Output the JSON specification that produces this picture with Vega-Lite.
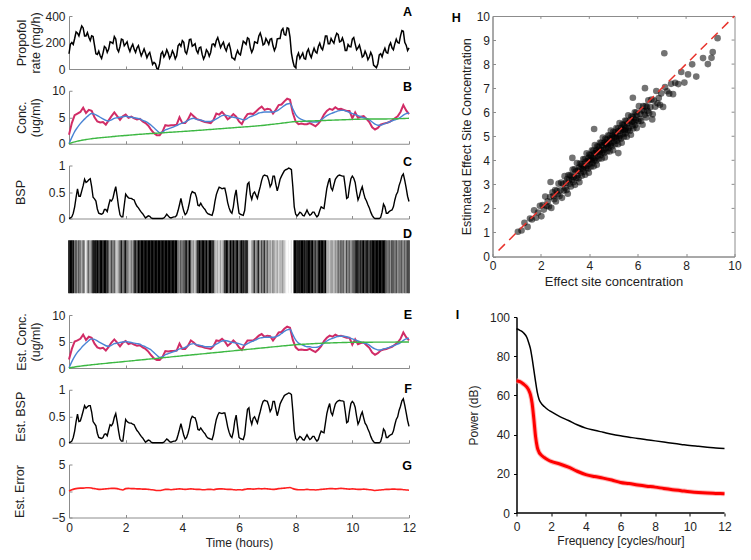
{
"$schema":"https://vega.github.io/schema/vega-lite/v6.json",
"padding":{"left":13,"top":6,"right":4,"bottom":4},
"datasets":{
"fine":[
{"t":0,"g":1,"a":115,"c":0,"f":0},{"t":0.05,"g":1,"a":187,"c":0.01,"f":0.01},{"t":0.1,"g":1,"a":200,"c":0.03,"f":0.03},{"t":0.15,"g":1,"a":185,"c":0.1,"f":0.1},{"t":0.2,"g":0.5,"a":230,"c":0.22,"f":0.22},{"t":0.25,"g":0.8,"a":280,"c":0.4,"f":0.4},{"t":0.3,"g":0.4,"a":270,"c":0.56,"f":0.54},{"t":0.35,"g":0.7,"a":250,"c":0.42,"f":0.4},{"t":0.4,"g":0.5,"a":290,"c":0.42,"f":0.41},{"t":0.45,"g":0.3,"a":325,"c":0.52,"f":0.5},
{"t":0.5,"g":0.6,"a":310,"c":0.62,"f":0.6},{"t":0.55,"g":0.4,"a":250,"c":0.74,"f":0.7},{"t":0.6,"g":0.05,"a":250,"c":0.68,"f":0.65},{"t":0.65,"g":0.4,"a":275,"c":0.7,"f":0.68},{"t":0.7,"g":0.6,"a":240,"c":0.73,"f":0.7},{"t":0.75,"g":0.3,"a":215,"c":0.75,"f":0.7},{"t":0.8,"g":0.5,"a":250,"c":0.6,"f":0.58},{"t":0.85,"g":1,"a":245,"c":0.4,"f":0.4},{"t":0.9,"g":0.9,"a":180,"c":0.37,"f":0.36},{"t":0.95,"g":1,"a":115,"c":0.33,"f":0.32},
{"t":1,"g":1,"a":110,"c":0.18,"f":0.18},{"t":1.05,"g":0.8,"a":135,"c":0.1,"f":0.1},{"t":1.1,"g":1,"a":100,"c":0.09,"f":0.09},{"t":1.15,"g":1,"a":80,"c":0.08,"f":0.08},{"t":1.2,"g":0.9,"a":120,"c":0.1,"f":0.1},{"t":1.25,"g":1,"a":170,"c":0.17,"f":0.16},{"t":1.3,"g":1,"a":160,"c":0.17,"f":0.17},{"t":1.35,"g":0.85,"a":125,"c":0.13,"f":0.13},{"t":1.4,"g":0.6,"a":150,"c":0.25,"f":0.24},{"t":1.45,"g":0.4,"a":205,"c":0.35,"f":0.34},
{"t":1.5,"g":0.7,"a":200,"c":0.33,"f":0.32},{"t":1.55,"g":0.5,"a":192,"c":0.38,"f":0.37},{"t":1.6,"g":0.6,"a":245,"c":0.5,"f":0.48},{"t":1.65,"g":0.3,"a":227,"c":0.6,"f":0.55},{"t":1.7,"g":0.2,"a":150,"c":0.42,"f":0.4},{"t":1.75,"g":0.35,"a":130,"c":0.22,"f":0.22},{"t":1.8,"g":0.6,"a":170,"c":0.07,"f":0.07},{"t":1.85,"g":0.9,"a":225,"c":0.03,"f":0.03},{"t":1.9,"g":0.5,"a":220,"c":0.03,"f":0.03},{"t":1.95,"g":0.7,"a":175,"c":0.25,"f":0.24},
{"t":2,"g":0.95,"a":190,"c":0.46,"f":0.44},{"t":2.05,"g":0.6,"a":205,"c":0.42,"f":0.4},{"t":2.1,"g":0.4,"a":160,"c":0.39,"f":0.38},{"t":2.15,"g":0.3,"a":132,"c":0.38,"f":0.37},{"t":2.2,"g":0.5,"a":165,"c":0.38,"f":0.37},{"t":2.25,"g":0.35,"a":187,"c":0.36,"f":0.35},{"t":2.3,"g":0.8,"a":150,"c":0.35,"f":0.34},{"t":2.35,"g":0.9,"a":125,"c":0.28,"f":0.28},{"t":2.4,"g":0.7,"a":160,"c":0.23,"f":0.23},{"t":2.45,"g":1,"a":177,"c":0.2,"f":0.2},
{"t":2.5,"g":0.9,"a":135,"c":0.16,"f":0.16},{"t":2.55,"g":1,"a":100,"c":0.12,"f":0.12},{"t":2.6,"g":1,"a":125,"c":0.09,"f":0.09},{"t":2.65,"g":1,"a":152,"c":0.05,"f":0.05},{"t":2.7,"g":1,"a":120,"c":0.01,"f":0.01},{"t":2.75,"g":1,"a":85,"c":0.03,"f":0.03},{"t":2.8,"g":1,"a":110,"c":0.05,"f":0.05},{"t":2.85,"g":1,"a":125,"c":0.04,"f":0.04},{"t":2.9,"g":1,"a":80,"c":0.01,"f":0.01},{"t":2.95,"g":1,"a":35,"c":0,"f":0},
{"t":3,"g":1,"a":50,"c":0,"f":0},{"t":3.05,"g":1,"a":40,"c":0,"f":0},{"t":3.1,"g":1,"a":5,"c":0,"f":0},{"t":3.15,"g":1,"a":0,"c":0,"f":0},{"t":3.2,"g":1,"a":40,"c":0,"f":0},{"t":3.25,"g":1,"a":115,"c":0,"f":0},{"t":3.3,"g":1,"a":130,"c":0,"f":0},{"t":3.35,"g":1,"a":90,"c":0.01,"f":0.01},{"t":3.4,"g":1,"a":110,"c":0.04,"f":0.04},{"t":3.45,"g":1,"a":145,"c":0.08,"f":0.07},
{"t":3.5,"g":1,"a":120,"c":0.05,"f":0.05},{"t":3.55,"g":1,"a":80,"c":0.02,"f":0.02},{"t":3.6,"g":1,"a":100,"c":0.01,"f":0.01},{"t":3.65,"g":1,"a":137,"c":0.02,"f":0.02},{"t":3.7,"g":1,"a":115,"c":0.03,"f":0.03},{"t":3.75,"g":1,"a":77,"c":0.03,"f":0.03},{"t":3.8,"g":1,"a":100,"c":0.06,"f":0.06},{"t":3.85,"g":0.6,"a":175,"c":0.15,"f":0.15},{"t":3.9,"g":0.4,"a":190,"c":0.26,"f":0.25},{"t":3.95,"g":0.7,"a":172,"c":0.38,"f":0.36},
{"t":4,"g":0.5,"a":215,"c":0.25,"f":0.25},{"t":4.05,"g":0.6,"a":202,"c":0.14,"f":0.14},{"t":4.1,"g":0.8,"a":130,"c":0.07,"f":0.07},{"t":4.15,"g":0.9,"a":115,"c":0.1,"f":0.1},{"t":4.2,"g":0.6,"a":160,"c":0.18,"f":0.18},{"t":4.25,"g":1,"a":222,"c":0.3,"f":0.29},{"t":4.3,"g":0.7,"a":225,"c":0.45,"f":0.44},{"t":4.35,"g":0.3,"a":172,"c":0.51,"f":0.5},{"t":4.4,"g":0.4,"a":180,"c":0.49,"f":0.48},{"t":4.45,"g":0.2,"a":190,"c":0.48,"f":0.47},
{"t":4.5,"g":0.5,"a":140,"c":0.4,"f":0.39},{"t":4.55,"g":0.9,"a":120,"c":0.25,"f":0.25},{"t":4.6,"g":1,"a":160,"c":0.24,"f":0.24},{"t":4.65,"g":0.8,"a":165,"c":0.29,"f":0.28},{"t":4.7,"g":1,"a":110,"c":0.24,"f":0.24},{"t":4.75,"g":1,"a":75,"c":0.2,"f":0.2},{"t":4.8,"g":0.9,"a":100,"c":0.17,"f":0.17},{"t":4.85,"g":1,"a":145,"c":0.12,"f":0.12},{"t":4.9,"g":0.7,"a":130,"c":0.09,"f":0.09},{"t":4.95,"g":1,"a":97,"c":0.08,"f":0.08},
{"t":5,"g":1,"a":125,"c":0.07,"f":0.07},{"t":5.05,"g":0.9,"a":187,"c":0.06,"f":0.06},{"t":5.1,"g":0.8,"a":190,"c":0.15,"f":0.15},{"t":5.15,"g":0.4,"a":172,"c":0.32,"f":0.31},{"t":5.2,"g":0.2,"a":215,"c":0.45,"f":0.44},{"t":5.25,"g":0.3,"a":237,"c":0.53,"f":0.52},{"t":5.3,"g":0.15,"a":200,"c":0.59,"f":0.57},{"t":5.35,"g":0.35,"a":162,"c":0.58,"f":0.56},{"t":5.4,"g":0.2,"a":185,"c":0.56,"f":0.55},{"t":5.45,"g":0.4,"a":202,"c":0.57,"f":0.56},
{"t":5.5,"g":0.8,"a":160,"c":0.57,"f":0.56},{"t":5.55,"g":1,"a":137,"c":0.45,"f":0.44},{"t":5.6,"g":0.9,"a":175,"c":0.3,"f":0.3},{"t":5.65,"g":0.6,"a":192,"c":0.2,"f":0.2},{"t":5.7,"g":1,"a":150,"c":0.13,"f":0.13},{"t":5.75,"g":0.8,"a":85,"c":0.1,"f":0.1},{"t":5.8,"g":1,"a":80,"c":0.22,"f":0.21},{"t":5.85,"g":0.7,"a":70,"c":0.42,"f":0.41},{"t":5.9,"g":0.9,"a":110,"c":0.54,"f":0.52},{"t":5.95,"g":1,"a":140,"c":0.3,"f":0.3},
{"t":6,"g":0.6,"a":115,"c":0.1,"f":0.1},{"t":6.05,"g":0.8,"a":107,"c":0.08,"f":0.08},{"t":6.1,"g":1,"a":160,"c":0.07,"f":0.07},{"t":6.15,"g":0.9,"a":210,"c":0.06,"f":0.06},{"t":6.2,"g":0.7,"a":200,"c":0.15,"f":0.15},{"t":6.25,"g":1,"a":187,"c":0.42,"f":0.41},{"t":6.3,"g":0.8,"a":235,"c":0.65,"f":0.63},{"t":6.35,"g":0.2,"a":227,"c":0.68,"f":0.66},{"t":6.4,"g":0.1,"a":160,"c":0.45,"f":0.44},{"t":6.45,"g":0.3,"a":125,"c":0.36,"f":0.35},
{"t":6.5,"g":0.5,"a":150,"c":0.47,"f":0.46},{"t":6.55,"g":0.8,"a":205,"c":0.5,"f":0.49},{"t":6.6,"g":0.4,"a":200,"c":0.44,"f":0.43},{"t":6.65,"g":0.6,"a":195,"c":0.38,"f":0.37},{"t":6.7,"g":0.9,"a":250,"c":0.5,"f":0.49},{"t":6.75,"g":0.3,"a":272,"c":0.6,"f":0.59},{"t":6.8,"g":0.7,"a":235,"c":0.72,"f":0.7},{"t":6.85,"g":0.5,"a":182,"c":0.8,"f":0.78},{"t":6.9,"g":0.8,"a":190,"c":0.82,"f":0.8},{"t":6.95,"g":0.4,"a":230,"c":0.81,"f":0.79},
{"t":7,"g":0.6,"a":210,"c":0.8,"f":0.78},{"t":7.05,"g":0.3,"a":187,"c":0.72,"f":0.7},{"t":7.1,"g":0.4,"a":225,"c":0.6,"f":0.59},{"t":7.15,"g":0.2,"a":230,"c":0.65,"f":0.64},{"t":7.2,"g":0.5,"a":175,"c":0.8,"f":0.78},{"t":7.25,"g":0.3,"a":140,"c":0.8,"f":0.78},{"t":7.3,"g":0.2,"a":165,"c":0.65,"f":0.64},{"t":7.35,"g":0.35,"a":227,"c":0.52,"f":0.51},{"t":7.4,"g":0.15,"a":230,"c":0.62,"f":0.61},{"t":7.45,"g":0.3,"a":230,"c":0.74,"f":0.73},
{"t":7.5,"g":0.25,"a":290,"c":0.8,"f":0.79},{"t":7.55,"g":0.4,"a":305,"c":0.85,"f":0.84},{"t":7.6,"g":0.2,"a":260,"c":0.9,"f":0.89},{"t":7.65,"g":0.1,"a":255,"c":0.92,"f":0.91},{"t":7.7,"g":0,"a":310,"c":0.93,"f":0.92},{"t":7.75,"g":0.05,"a":305,"c":0.95,"f":0.94},{"t":7.8,"g":0,"a":240,"c":0.94,"f":0.93},{"t":7.85,"g":0.1,"a":120,"c":0.92,"f":0.91},{"t":7.9,"g":0,"a":60,"c":0.6,"f":0.6},{"t":7.95,"g":1,"a":20,"c":0.22,"f":0.23},
{"t":8,"g":1,"a":10,"c":0.08,"f":0.08},{"t":8.05,"g":1,"a":95,"c":0.05,"f":0.05},{"t":8.1,"g":0.9,"a":120,"c":0.08,"f":0.08},{"t":8.15,"g":1,"a":80,"c":0.12,"f":0.12},{"t":8.2,"g":1,"a":100,"c":0.1,"f":0.1},{"t":8.25,"g":1,"a":120,"c":0.06,"f":0.06},{"t":8.3,"g":1,"a":80,"c":0.05,"f":0.05},{"t":8.35,"g":0.8,"a":75,"c":0.1,"f":0.1},{"t":8.4,"g":1,"a":130,"c":0.16,"f":0.15},{"t":8.45,"g":1,"a":150,"c":0.1,"f":0.1},
{"t":8.5,"g":1,"a":110,"c":0.06,"f":0.06},{"t":8.55,"g":0.9,"a":87,"c":0.08,"f":0.08},{"t":8.6,"g":1,"a":125,"c":0.12,"f":0.12},{"t":8.65,"g":0.7,"a":157,"c":0.12,"f":0.12},{"t":8.7,"g":0.8,"a":130,"c":0.07,"f":0.07},{"t":8.75,"g":0.6,"a":120,"c":0.03,"f":0.03},{"t":8.8,"g":0.9,"a":170,"c":0.06,"f":0.06},{"t":8.85,"g":1,"a":195,"c":0.15,"f":0.15},{"t":8.9,"g":1,"a":160,"c":0.22,"f":0.22},{"t":8.95,"g":1,"a":145,"c":0.2,"f":0.2},
{"t":9,"g":0.9,"a":190,"c":0.19,"f":0.19},{"t":9.05,"g":1,"a":250,"c":0.38,"f":0.37},{"t":9.1,"g":0.4,"a":250,"c":0.57,"f":0.55},{"t":9.15,"g":0.3,"a":190,"c":0.68,"f":0.66},{"t":9.2,"g":0.2,"a":190,"c":0.76,"f":0.74},{"t":9.25,"g":0.4,"a":230,"c":0.58,"f":0.57},{"t":9.3,"g":0.35,"a":210,"c":0.53,"f":0.52},{"t":9.35,"g":0.25,"a":195,"c":0.64,"f":0.63},{"t":9.4,"g":0.4,"a":240,"c":0.74,"f":0.73},{"t":9.45,"g":0.3,"a":270,"c":0.78,"f":0.77},
{"t":9.5,"g":0.6,"a":260,"c":0.81,"f":0.79},{"t":9.55,"g":0.4,"a":205,"c":0.82,"f":0.8},{"t":9.6,"g":0.7,"a":210,"c":0.81,"f":0.79},{"t":9.65,"g":0.5,"a":235,"c":0.8,"f":0.79},{"t":9.7,"g":0.6,"a":200,"c":0.8,"f":0.78},{"t":9.75,"g":0.3,"a":140,"c":0.6,"f":0.59},{"t":9.8,"g":0.7,"a":140,"c":0.38,"f":0.38},{"t":9.85,"g":0.5,"a":185,"c":0.4,"f":0.4},{"t":9.9,"g":0.6,"a":170,"c":0.6,"f":0.59},{"t":9.95,"g":0.4,"a":167,"c":0.75,"f":0.74},
{"t":10,"g":0.55,"a":225,"c":0.8,"f":0.78},{"t":10.05,"g":0.6,"a":237,"c":0.76,"f":0.75},{"t":10.1,"g":0.8,"a":190,"c":0.68,"f":0.67},{"t":10.15,"g":0.9,"a":145,"c":0.5,"f":0.5},{"t":10.2,"g":1,"a":160,"c":0.35,"f":0.35},{"t":10.25,"g":0.7,"a":180,"c":0.42,"f":0.41},{"t":10.3,"g":0.9,"a":140,"c":0.53,"f":0.52},{"t":10.35,"g":0.85,"a":90,"c":0.6,"f":0.58},{"t":10.4,"g":1,"a":100,"c":0.48,"f":0.47},{"t":10.45,"g":0.8,"a":135,"c":0.38,"f":0.37},
{"t":10.5,"g":0.9,"a":110,"c":0.33,"f":0.33},{"t":10.55,"g":1,"a":70,"c":0.26,"f":0.26},{"t":10.6,"g":0.7,"a":90,"c":0.2,"f":0.2},{"t":10.65,"g":0.9,"a":125,"c":0.12,"f":0.12},{"t":10.7,"g":1,"a":100,"c":0.06,"f":0.06},{"t":10.75,"g":1,"a":30,"c":0.02,"f":0.02},{"t":10.8,"g":1,"a":20,"c":0,"f":0},{"t":10.85,"g":1,"a":10,"c":0,"f":0},{"t":10.9,"g":1,"a":40,"c":0,"f":0},{"t":10.95,"g":1,"a":107,"c":0,"f":0},
{"t":11,"g":1,"a":115,"c":0.02,"f":0.02},{"t":11.05,"g":1,"a":92,"c":0.12,"f":0.12},{"t":11.1,"g":1,"a":130,"c":0.27,"f":0.26},{"t":11.15,"g":1,"a":157,"c":0.22,"f":0.22},{"t":11.2,"g":0.6,"a":125,"c":0.1,"f":0.1},{"t":11.25,"g":0.5,"a":120,"c":0.1,"f":0.1},{"t":11.3,"g":0.7,"a":175,"c":0.13,"f":0.13},{"t":11.35,"g":0.4,"a":197,"c":0.15,"f":0.15},{"t":11.4,"g":0.8,"a":160,"c":0.16,"f":0.16},{"t":11.45,"g":0.6,"a":145,"c":0.22,"f":0.22},
{"t":11.5,"g":0.5,"a":190,"c":0.35,"f":0.34},{"t":11.55,"g":0.7,"a":225,"c":0.45,"f":0.44},{"t":11.6,"g":0.4,"a":200,"c":0.5,"f":0.49},{"t":11.65,"g":0.6,"a":195,"c":0.62,"f":0.61},{"t":11.7,"g":0.5,"a":250,"c":0.7,"f":0.69},{"t":11.75,"g":0.7,"a":290,"c":0.8,"f":0.79},{"t":11.8,"g":0.4,"a":285,"c":0.84,"f":0.83},{"t":11.85,"g":0.6,"a":202,"c":0.72,"f":0.71},{"t":11.9,"g":0.5,"a":180,"c":0.58,"f":0.57},{"t":11.95,"g":0.7,"a":140,"c":0.42,"f":0.42},
{"t":12,"g":0.8,"a":160,"c":0.32,"f":0.31}
],
"coarse":[
{"t":0,"br":1.7,"bb":0,"bg":0,"er":1.6,"eb":0,"eg":0,"e":0},
{"t":0.1,"br":3.9,"bb":1.2,"bg":0.2,"er":3.6,"eb":1.2,"eg":0.1,"e":0.25},
{"t":0.2,"br":5.4,"bb":2.3,"bg":0.35,"er":5.0,"eb":2.2,"eg":0.2,"e":0.4},
{"t":0.3,"br":5.7,"bb":3.1,"bg":0.5,"er":5.2,"eb":3.0,"eg":0.28,"e":0.5},
{"t":0.4,"br":6.0,"bb":3.8,"bg":0.6,"er":5.5,"eb":3.6,"eg":0.35,"e":0.55},
{"t":0.5,"br":6.8,"bb":4.4,"bg":0.7,"er":6.3,"eb":4.2,"eg":0.42,"e":0.55},
{"t":0.6,"br":5.8,"bb":4.9,"bg":0.8,"er":5.3,"eb":4.7,"eg":0.48,"e":0.6},
{"t":0.7,"br":6.4,"bb":5.4,"bg":0.88,"er":5.9,"eb":5.2,"eg":0.54,"e":0.6},
{"t":0.8,"br":6.2,"bb":5.7,"bg":0.95,"er":5.7,"eb":5.5,"eg":0.6,"e":0.55},
{"t":0.9,"br":5.0,"bb":5.6,"bg":1.02,"er":4.6,"eb":5.4,"eg":0.66,"e":0.45},
{"t":1,"br":4.2,"bb":5.3,"bg":1.08,"er":3.9,"eb":5.1,"eg":0.72,"e":0.35},
{"t":1.1,"br":4.0,"bb":5.0,"bg":1.13,"er":3.7,"eb":4.8,"eg":0.77,"e":0.3},
{"t":1.2,"br":4.1,"bb":4.7,"bg":1.18,"er":3.8,"eb":4.5,"eg":0.83,"e":0.35},
{"t":1.3,"br":3.6,"bb":4.4,"bg":1.23,"er":3.3,"eb":4.2,"eg":0.88,"e":0.4},
{"t":1.4,"br":4.4,"bb":4.3,"bg":1.28,"er":4.0,"eb":4.1,"eg":0.93,"e":0.45},
{"t":1.5,"br":5.2,"bb":4.5,"bg":1.33,"er":4.8,"eb":4.3,"eg":0.98,"e":0.5},
{"t":1.6,"br":5.9,"bb":4.8,"bg":1.38,"er":5.4,"eb":4.6,"eg":1.04,"e":0.5},
{"t":1.7,"br":5.2,"bb":4.9,"bg":1.43,"er":4.8,"eb":4.7,"eg":1.09,"e":0.45},
{"t":1.8,"br":4.5,"bb":5.0,"bg":1.48,"er":4.1,"eb":4.8,"eg":1.14,"e":0.3},
{"t":1.9,"br":5.2,"bb":5.1,"bg":1.52,"er":4.8,"eb":4.9,"eg":1.19,"e":0.2},
{"t":2,"br":5.5,"bb":5.2,"bg":1.57,"er":5.1,"eb":5.0,"eg":1.25,"e":0.45},
{"t":2.1,"br":4.9,"bb":5.1,"bg":1.61,"er":4.5,"eb":4.9,"eg":1.3,"e":0.5},
{"t":2.2,"br":5.1,"bb":5.0,"bg":1.65,"er":4.7,"eb":4.8,"eg":1.35,"e":0.45},
{"t":2.3,"br":4.8,"bb":4.9,"bg":1.7,"er":4.4,"eb":4.7,"eg":1.4,"e":0.45},
{"t":2.4,"br":4.6,"bb":4.8,"bg":1.74,"er":4.2,"eb":4.6,"eg":1.46,"e":0.4},
{"t":2.5,"br":4.7,"bb":4.7,"bg":1.78,"er":4.3,"eb":4.5,"eg":1.51,"e":0.4},
{"t":2.6,"br":4.2,"bb":4.4,"bg":1.82,"er":3.9,"eb":4.2,"eg":1.56,"e":0.35},
{"t":2.7,"br":3.9,"bb":4.2,"bg":1.86,"er":3.6,"eb":4.0,"eg":1.61,"e":0.35},
{"t":2.8,"br":3.4,"bb":3.9,"bg":1.9,"er":3.1,"eb":3.7,"eg":1.67,"e":0.3},
{"t":2.9,"br":2.6,"bb":3.5,"bg":1.93,"er":2.4,"eb":3.4,"eg":1.72,"e":0.25},
{"t":3,"br":2.0,"bb":3.0,"bg":1.96,"er":1.8,"eb":2.9,"eg":1.77,"e":0.2},
{"t":3.1,"br":1.6,"bb":2.5,"bg":1.99,"er":1.5,"eb":2.4,"eg":1.82,"e":0.1},
{"t":3.2,"br":1.6,"bb":2.1,"bg":2.02,"er":1.5,"eb":2.0,"eg":1.88,"e":0.1},
{"t":3.3,"br":2.3,"bb":2.2,"bg":2.06,"er":2.1,"eb":2.1,"eg":1.93,"e":0.2},
{"t":3.4,"br":3.5,"bb":2.6,"bg":2.1,"er":3.2,"eb":2.5,"eg":1.98,"e":0.3},
{"t":3.5,"br":3.4,"bb":2.8,"bg":2.14,"er":3.1,"eb":2.7,"eg":2.03,"e":0.3},
{"t":3.6,"br":3.5,"bb":3.0,"bg":2.18,"er":3.2,"eb":2.9,"eg":2.09,"e":0.25},
{"t":3.7,"br":3.5,"bb":3.2,"bg":2.21,"er":3.2,"eb":3.1,"eg":2.14,"e":0.3},
{"t":3.8,"br":3.6,"bb":3.4,"bg":2.24,"er":3.3,"eb":3.3,"eg":2.19,"e":0.35},
{"t":3.9,"br":5.0,"bb":3.7,"bg":2.28,"er":4.6,"eb":3.6,"eg":2.25,"e":0.4},
{"t":4,"br":3.9,"bb":3.9,"bg":2.31,"er":3.6,"eb":3.7,"eg":2.3,"e":0.35},
{"t":4.1,"br":3.9,"bb":4.1,"bg":2.35,"er":3.6,"eb":3.9,"eg":2.35,"e":0.3},
{"t":4.2,"br":4.6,"bb":4.4,"bg":2.38,"er":4.2,"eb":4.2,"eg":2.4,"e":0.35},
{"t":4.3,"br":5.7,"bb":4.7,"bg":2.42,"er":5.2,"eb":4.5,"eg":2.46,"e":0.4},
{"t":4.4,"br":5.2,"bb":4.8,"bg":2.46,"er":4.8,"eb":4.6,"eg":2.51,"e":0.35},
{"t":4.5,"br":4.7,"bb":4.6,"bg":2.5,"er":4.3,"eb":4.4,"eg":2.56,"e":0.3},
{"t":4.6,"br":4.5,"bb":4.5,"bg":2.54,"er":4.1,"eb":4.3,"eg":2.61,"e":0.3},
{"t":4.7,"br":4.3,"bb":4.4,"bg":2.58,"er":4.0,"eb":4.2,"eg":2.67,"e":0.25},
{"t":4.8,"br":4.1,"bb":4.2,"bg":2.62,"er":3.8,"eb":4.0,"eg":2.72,"e":0.25},
{"t":4.9,"br":4.0,"bb":4.2,"bg":2.66,"er":3.7,"eb":4.0,"eg":2.77,"e":0.3},
{"t":5,"br":3.9,"bb":4.2,"bg":2.7,"er":3.6,"eb":4.0,"eg":2.82,"e":0.3},
{"t":5.1,"br":4.5,"bb":4.4,"bg":2.74,"er":4.1,"eb":4.2,"eg":2.88,"e":0.25},
{"t":5.2,"br":5.7,"bb":4.7,"bg":2.78,"er":5.2,"eb":4.5,"eg":2.93,"e":0.35},
{"t":5.3,"br":5.5,"bb":5.0,"bg":2.82,"er":5.1,"eb":4.8,"eg":2.98,"e":0.4},
{"t":5.4,"br":6.0,"bb":5.3,"bg":2.86,"er":5.5,"eb":5.1,"eg":3.03,"e":0.4},
{"t":5.5,"br":5.4,"bb":5.4,"bg":2.9,"er":5.0,"eb":5.2,"eg":3.09,"e":0.35},
{"t":5.6,"br":4.6,"bb":5.3,"bg":2.94,"er":4.2,"eb":5.1,"eg":3.14,"e":0.3},
{"t":5.7,"br":5.0,"bb":5.1,"bg":2.98,"er":4.6,"eb":4.9,"eg":3.19,"e":0.3},
{"t":5.8,"br":5.6,"bb":5.0,"bg":3.02,"er":5.2,"eb":4.8,"eg":3.24,"e":0.25},
{"t":5.9,"br":5.1,"bb":4.9,"bg":3.06,"er":4.7,"eb":4.7,"eg":3.3,"e":0.2},
{"t":6,"br":4.2,"bb":4.8,"bg":3.1,"er":3.9,"eb":4.6,"eg":3.35,"e":0.25},
{"t":6.1,"br":3.7,"bb":4.6,"bg":3.14,"er":3.4,"eb":4.4,"eg":3.4,"e":0.2},
{"t":6.2,"br":4.8,"bb":4.5,"bg":3.18,"er":4.4,"eb":4.3,"eg":3.45,"e":0.3},
{"t":6.3,"br":5.6,"bb":4.8,"bg":3.22,"er":5.2,"eb":4.6,"eg":3.51,"e":0.4},
{"t":6.4,"br":5.7,"bb":5.1,"bg":3.26,"er":5.2,"eb":4.9,"eg":3.56,"e":0.4},
{"t":6.5,"br":5.6,"bb":5.3,"bg":3.3,"er":5.2,"eb":5.1,"eg":3.61,"e":0.35},
{"t":6.6,"br":6.1,"bb":5.5,"bg":3.35,"er":5.6,"eb":5.3,"eg":3.67,"e":0.4},
{"t":6.7,"br":6.6,"bb":5.8,"bg":3.4,"er":6.1,"eb":5.6,"eg":3.72,"e":0.45},
{"t":6.8,"br":7.0,"bb":5.9,"bg":3.45,"er":6.4,"eb":5.7,"eg":3.77,"e":0.4},
{"t":6.9,"br":6.4,"bb":6.0,"bg":3.5,"er":5.9,"eb":5.8,"eg":3.82,"e":0.45},
{"t":7,"br":6.6,"bb":6.0,"bg":3.56,"er":6.1,"eb":5.8,"eg":3.88,"e":0.4},
{"t":7.1,"br":6.5,"bb":6.0,"bg":3.62,"er":6.0,"eb":5.8,"eg":3.93,"e":0.35},
{"t":7.2,"br":5.7,"bb":6.0,"bg":3.68,"er":5.2,"eb":5.8,"eg":3.98,"e":0.3},
{"t":7.3,"br":6.4,"bb":6.1,"bg":3.74,"er":5.9,"eb":5.9,"eg":4.03,"e":0.35},
{"t":7.4,"br":7.3,"bb":6.4,"bg":3.8,"er":6.7,"eb":6.1,"eg":4.09,"e":0.45},
{"t":7.5,"br":7.4,"bb":6.8,"bg":3.87,"er":6.8,"eb":6.5,"eg":4.14,"e":0.5},
{"t":7.6,"br":8.0,"bb":7.2,"bg":3.94,"er":7.4,"eb":6.9,"eg":4.19,"e":0.55},
{"t":7.7,"br":8.5,"bb":7.5,"bg":4.01,"er":7.8,"eb":7.2,"eg":4.24,"e":0.6},
{"t":7.8,"br":8.3,"bb":7.6,"bg":4.08,"er":7.6,"eb":7.3,"eg":4.3,"e":0.65},
{"t":7.9,"br":5.8,"bb":6.6,"bg":4.14,"er":5.3,"eb":6.3,"eg":4.35,"e":0.45},
{"t":8,"br":4.2,"bb":5.5,"bg":4.18,"er":3.9,"eb":5.3,"eg":4.4,"e":0.3},
{"t":8.1,"br":3.7,"bb":4.9,"bg":4.21,"er":3.4,"eb":4.7,"eg":4.43,"e":0.25},
{"t":8.2,"br":3.8,"bb":4.6,"bg":4.23,"er":3.5,"eb":4.4,"eg":4.46,"e":0.25},
{"t":8.3,"br":3.7,"bb":4.4,"bg":4.25,"er":3.4,"eb":4.2,"eg":4.49,"e":0.25},
{"t":8.4,"br":3.7,"bb":4.2,"bg":4.27,"er":3.4,"eb":4.0,"eg":4.52,"e":0.3},
{"t":8.5,"br":3.9,"bb":4.2,"bg":4.29,"er":3.6,"eb":4.0,"eg":4.55,"e":0.25},
{"t":8.6,"br":3.6,"bb":4.1,"bg":4.31,"er":3.3,"eb":3.9,"eg":4.58,"e":0.25},
{"t":8.7,"br":3.3,"bb":4.1,"bg":4.33,"er":3.0,"eb":3.9,"eg":4.61,"e":0.2},
{"t":8.8,"br":3.8,"bb":4.2,"bg":4.35,"er":3.5,"eb":4.0,"eg":4.64,"e":0.25},
{"t":8.9,"br":4.5,"bb":4.5,"bg":4.37,"er":4.1,"eb":4.3,"eg":4.67,"e":0.3},
{"t":9,"br":5.5,"bb":4.9,"bg":4.39,"er":5.1,"eb":4.7,"eg":4.7,"e":0.35},
{"t":9.1,"br":6.2,"bb":5.3,"bg":4.41,"er":5.7,"eb":5.1,"eg":4.72,"e":0.4},
{"t":9.2,"br":6.6,"bb":5.6,"bg":4.43,"er":6.1,"eb":5.4,"eg":4.73,"e":0.45},
{"t":9.3,"br":6.4,"bb":5.8,"bg":4.45,"er":5.9,"eb":5.6,"eg":4.75,"e":0.45},
{"t":9.4,"br":6.9,"bb":6.0,"bg":4.47,"er":6.3,"eb":5.8,"eg":4.76,"e":0.4},
{"t":9.5,"br":6.5,"bb":6.2,"bg":4.49,"er":6.0,"eb":6.0,"eg":4.78,"e":0.45},
{"t":9.6,"br":6.6,"bb":6.3,"bg":4.51,"er":6.1,"eb":6.0,"eg":4.79,"e":0.5},
{"t":9.7,"br":6.4,"bb":6.3,"bg":4.53,"er":5.9,"eb":6.0,"eg":4.81,"e":0.45},
{"t":9.8,"br":6.2,"bb":6.1,"bg":4.55,"er":5.7,"eb":5.9,"eg":4.82,"e":0.4},
{"t":9.9,"br":6.2,"bb":5.9,"bg":4.57,"er":5.7,"eb":5.7,"eg":4.84,"e":0.35},
{"t":10,"br":4.8,"bb":5.7,"bg":4.59,"er":4.4,"eb":5.5,"eg":4.85,"e":0.4},
{"t":10.1,"br":5.9,"bb":5.5,"bg":4.61,"er":5.4,"eb":5.3,"eg":4.85,"e":0.35},
{"t":10.2,"br":4.9,"bb":5.3,"bg":4.63,"er":4.5,"eb":5.1,"eg":4.86,"e":0.3},
{"t":10.3,"br":5.1,"bb":5.1,"bg":4.64,"er":4.7,"eb":4.9,"eg":4.86,"e":0.3},
{"t":10.4,"br":5.2,"bb":4.9,"bg":4.65,"er":4.8,"eb":4.7,"eg":4.86,"e":0.35},
{"t":10.5,"br":4.7,"bb":4.8,"bg":4.66,"er":4.3,"eb":4.6,"eg":4.87,"e":0.3},
{"t":10.6,"br":4.1,"bb":4.5,"bg":4.67,"er":3.8,"eb":4.3,"eg":4.87,"e":0.25},
{"t":10.7,"br":3.1,"bb":4.1,"bg":4.68,"er":2.9,"eb":3.9,"eg":4.87,"e":0.2},
{"t":10.8,"br":2.7,"bb":3.7,"bg":4.68,"er":2.5,"eb":3.6,"eg":4.88,"e":0.1},
{"t":10.9,"br":3.0,"bb":3.5,"bg":4.68,"er":2.8,"eb":3.4,"eg":4.88,"e":0.15},
{"t":11,"br":3.6,"bb":3.5,"bg":4.68,"er":3.3,"eb":3.4,"eg":4.88,"e":0.2},
{"t":11.1,"br":3.8,"bb":3.7,"bg":4.68,"er":3.5,"eb":3.6,"eg":4.88,"e":0.25},
{"t":11.2,"br":3.9,"bb":3.9,"bg":4.68,"er":3.6,"eb":3.7,"eg":4.89,"e":0.3},
{"t":11.3,"br":4.1,"bb":4.1,"bg":4.69,"er":3.8,"eb":3.9,"eg":4.89,"e":0.3},
{"t":11.4,"br":4.4,"bb":4.3,"bg":4.7,"er":4.0,"eb":4.1,"eg":4.89,"e":0.35},
{"t":11.5,"br":4.8,"bb":4.5,"bg":4.71,"er":4.4,"eb":4.3,"eg":4.89,"e":0.35},
{"t":11.6,"br":5.2,"bb":4.7,"bg":4.72,"er":4.8,"eb":4.5,"eg":4.9,"e":0.3},
{"t":11.7,"br":6.0,"bb":5.0,"bg":4.74,"er":5.5,"eb":4.8,"eg":4.9,"e":0.3},
{"t":11.8,"br":7.3,"bb":5.4,"bg":4.76,"er":6.7,"eb":5.2,"eg":4.9,"e":0.25},
{"t":11.9,"br":6.3,"bb":5.7,"bg":4.78,"er":5.8,"eb":5.5,"eg":4.9,"e":0.2},
{"t":12,"br":5.6,"bb":5.8,"bg":4.8,"er":5.2,"eb":5.6,"eg":4.9,"e":0.15}
],
"scatter":[
{"x":1.05,"y":1.03},{"x":1.2,"y":1.08},{"x":1.32,"y":1.4},{"x":1.45,"y":1.23},
{"x":1.55,"y":1.58},{"x":1.63,"y":1.54},{"x":1.72,"y":1.92},{"x":1.8,"y":1.61},{"x":1.88,"y":1.83},{"x":1.96,"y":2.11},
{"x":2.02,"y":1.67},{"x":2.07,"y":2.14},{"x":2.12,"y":1.95},{"x":2.18,"y":2.49},{"x":2.23,"y":2.1},{"x":2.28,"y":2.29},{"x":2.33,"y":2.08},{"x":2.38,"y":2.47},{"x":2.43,"y":2.02},{"x":2.48,"y":2.67},
{"x":2.52,"y":2.52},{"x":2.55,"y":2.38},{"x":2.59,"y":2.76},{"x":2.62,"y":2.29},{"x":2.66,"y":2.73},{"x":2.69,"y":2.59},{"x":2.73,"y":3.03},{"x":2.77,"y":2.52},{"x":2.8,"y":2.75},{"x":2.84,"y":3.07},{"x":2.87,"y":2.44},{"x":2.91,"y":3.01},{"x":2.94,"y":2.74},{"x":2.98,"y":3.34},
{"x":3.01,"y":2.86},{"x":3.04,"y":3.07},{"x":3.06,"y":2.76},{"x":3.09,"y":3.22},{"x":3.11,"y":2.61},{"x":3.14,"y":3.39},{"x":3.16,"y":3.16},{"x":3.19,"y":3.02},{"x":3.21,"y":3.38},{"x":3.24,"y":2.91},{"x":3.26,"y":3.33},{"x":3.29,"y":3.19},{"x":3.31,"y":3.61},{"x":3.34,"y":3.09},{"x":3.36,"y":3.31},{"x":3.39,"y":3.62},{"x":3.41,"y":2.98},{"x":3.44,"y":3.54},{"x":3.46,"y":3.26},{"x":3.49,"y":3.89},
{"x":3.51,"y":3.36},{"x":3.53,"y":3.56},{"x":3.55,"y":3.25},{"x":3.57,"y":3.7},{"x":3.59,"y":3.09},{"x":3.61,"y":3.86},{"x":3.63,"y":3.63},{"x":3.65,"y":3.48},{"x":3.67,"y":3.84},{"x":3.69,"y":3.36},{"x":3.71,"y":3.78},{"x":3.73,"y":3.63},{"x":3.75,"y":4.05},{"x":3.77,"y":3.52},{"x":3.79,"y":3.74},{"x":3.81,"y":4.04},{"x":3.83,"y":3.4},{"x":3.85,"y":3.95},{"x":3.87,"y":3.67},{"x":3.89,"y":4.29},{"x":3.91,"y":3.76},{"x":3.93,"y":3.96},{"x":3.95,"y":3.65},{"x":3.97,"y":4.1},{"x":3.98,"y":3.48},{"x":3.99,"y":4.24},
{"x":4.01,"y":4.01},{"x":4.03,"y":3.86},{"x":4.04,"y":4.21},{"x":4.06,"y":3.73},{"x":4.08,"y":4.15},{"x":4.09,"y":3.99},{"x":4.11,"y":4.41},{"x":4.13,"y":3.88},{"x":4.14,"y":4.09},{"x":4.16,"y":4.39},{"x":4.18,"y":3.75},{"x":4.19,"y":4.29},{"x":4.21,"y":4.01},{"x":4.23,"y":4.63},{"x":4.24,"y":4.09},{"x":4.26,"y":4.29},{"x":4.28,"y":3.98},{"x":4.29,"y":4.42},{"x":4.31,"y":3.81},{"x":4.33,"y":4.58},{"x":4.34,"y":4.34},{"x":4.36,"y":4.19},{"x":4.38,"y":4.55},{"x":4.39,"y":4.06},{"x":4.41,"y":4.48},{"x":4.43,"y":4.33},{"x":4.44,"y":4.74},{"x":4.46,"y":4.21},{"x":4.48,"y":4.43},{"x":4.49,"y":4.72},
{"x":4.51,"y":4.08},{"x":4.53,"y":4.63},{"x":4.54,"y":4.33},{"x":4.56,"y":4.95},{"x":4.58,"y":4.42},{"x":4.59,"y":4.61},{"x":4.61,"y":4.3},{"x":4.63,"y":4.74},{"x":4.64,"y":4.12},{"x":4.66,"y":4.89},{"x":4.68,"y":4.66},{"x":4.69,"y":4.5},{"x":4.71,"y":4.85},{"x":4.73,"y":4.37},{"x":4.74,"y":4.78},{"x":4.76,"y":4.63},{"x":4.78,"y":5.04},{"x":4.79,"y":4.5},{"x":4.81,"y":4.72},{"x":4.83,"y":5.02},{"x":4.84,"y":4.37},{"x":4.86,"y":4.91},{"x":4.88,"y":4.63},{"x":4.89,"y":5.24},{"x":4.91,"y":4.71},{"x":4.93,"y":4.9},{"x":4.94,"y":4.58},{"x":4.96,"y":5.03},{"x":4.98,"y":4.42},{"x":4.99,"y":5.18},
{"x":5.01,"y":4.94},{"x":5.03,"y":4.79},{"x":5.05,"y":5.15},{"x":5.07,"y":4.67},{"x":5.08,"y":5.08},{"x":5.1,"y":4.92},{"x":5.12,"y":5.34},{"x":5.14,"y":4.81},{"x":5.16,"y":5.02},{"x":5.18,"y":5.32},{"x":5.19,"y":4.67},{"x":5.21,"y":5.22},{"x":5.23,"y":4.94},{"x":5.25,"y":5.55},{"x":5.27,"y":5.02},{"x":5.29,"y":5.22},{"x":5.3,"y":4.9},{"x":5.32,"y":5.34},{"x":5.34,"y":4.73},{"x":5.36,"y":5.5},{"x":5.38,"y":5.27},{"x":5.4,"y":5.11},{"x":5.41,"y":5.46},{"x":5.43,"y":4.98},{"x":5.45,"y":5.4},{"x":5.47,"y":5.24},{"x":5.48,"y":5.65},{"x":5.49,"y":5.11},
{"x":5.51,"y":5.33},{"x":5.53,"y":5.63},{"x":5.55,"y":4.98},{"x":5.57,"y":5.53},{"x":5.59,"y":5.25},{"x":5.61,"y":5.87},{"x":5.63,"y":5.33},{"x":5.65,"y":5.53},{"x":5.67,"y":5.22},{"x":5.69,"y":5.67},{"x":5.72,"y":5.06},{"x":5.74,"y":5.83},{"x":5.76,"y":5.6},{"x":5.78,"y":5.44},{"x":5.8,"y":5.8},{"x":5.82,"y":5.32},{"x":5.84,"y":5.74},{"x":5.86,"y":5.58},{"x":5.88,"y":6.0},{"x":5.9,"y":5.47},{"x":5.92,"y":5.69},{"x":5.94,"y":5.98},{"x":5.96,"y":5.34},{"x":5.98,"y":5.89},
{"x":6.02,"y":5.62},{"x":6.05,"y":6.25},{"x":6.08,"y":5.73},{"x":6.11,"y":5.93},{"x":6.14,"y":5.63},{"x":6.17,"y":6.08},{"x":6.2,"y":5.48},{"x":6.23,"y":6.26},{"x":6.26,"y":6.03},{"x":6.29,"y":5.89},{"x":6.32,"y":6.25},{"x":6.35,"y":5.78},{"x":6.38,"y":6.21},{"x":6.41,"y":6.06},{"x":6.44,"y":6.49},{"x":6.47,"y":5.96},
{"x":6.52,"y":6.21},{"x":6.57,"y":6.53},{"x":6.62,"y":5.91},{"x":6.67,"y":6.49},{"x":6.72,"y":6.23},{"x":6.77,"y":6.88},{"x":6.82,"y":6.37},{"x":6.87,"y":6.59},{"x":6.92,"y":6.31},{"x":6.97,"y":6.78},
{"x":7.05,"y":6.22},{"x":7.13,"y":7.04},{"x":7.22,"y":6.87},{"x":7.3,"y":6.77},{"x":7.38,"y":7.18},{"x":7.46,"y":6.75},
{"x":7.55,"y":7.22},{"x":7.68,"y":7.17},{"x":7.8,"y":7.67},{"x":7.93,"y":7.23},
{"x":8.08,"y":7.57},{"x":8.25,"y":7.99},{"x":8.42,"y":7.48},
{"x":8.7,"y":8.25},{"x":9.05,"y":8.26},{"x":9.3,"y":9.08},
{"x":7.1,"y":8.45},{"x":4.2,"y":5.3},{"x":5.8,"y":6.6},{"x":3.3,"y":4.1},{"x":6.3,"y":7.0},{"x":2.4,"y":3.1},{"x":5.2,"y":4.3},{"x":6.6,"y":5.7},{"x":8.9,"y":8.0},{"x":9.1,"y":8.5}
],
"psd":[
{"f":0,"k":94,"r":67.5},{"f":0.2,"k":93.2,"r":67},{"f":0.4,"k":92,"r":65.8},{"f":0.6,"k":89.5,"r":64.2},{"f":0.7,"k":87,"r":62.8},{"f":0.8,"k":84,"r":60.5},{"f":0.9,"k":79,"r":56},{"f":1.0,"k":73,"r":48},{"f":1.1,"k":67,"r":39},{"f":1.2,"k":61.5,"r":33.5},{"f":1.3,"k":58,"r":31},{"f":1.4,"k":56.3,"r":29.8},{"f":1.6,"k":54.3,"r":28.3},{"f":1.8,"k":52.8,"r":27.2},{"f":2,"k":51.7,"r":26.3},{"f":2.5,"k":49.2,"r":25},{"f":3,"k":47.2,"r":23.4},{"f":3.5,"k":45,"r":21.3},{"f":4,"k":43.3,"r":19.6},{"f":4.5,"k":42.2,"r":18.6},{"f":5,"k":41.2,"r":17.8},{"f":5.5,"k":40.2,"r":16.8},{"f":6,"k":39.4,"r":15.6},{"f":6.5,"k":38.7,"r":15},{"f":7,"k":38,"r":14.3},{"f":7.5,"k":37.4,"r":13.7},{"f":8,"k":36.8,"r":13.2},{"f":8.5,"k":36.2,"r":12.5},{"f":9,"k":35.6,"r":11.9},{"f":9.5,"k":35,"r":11.4},{"f":10,"k":34.4,"r":10.9},{"f":10.5,"k":34,"r":10.5},{"f":11,"k":33.6,"r":10.2},{"f":11.5,"k":33.2,"r":10},{"f":12,"k":32.9,"r":9.8}
],
"hticks":[{"v":2,"p":10,"q":9.88},{"v":4,"p":10,"q":9.88},{"v":6,"p":10,"q":9.88},{"v":8,"p":10,"q":9.88}],
"vticks":[{"v":1,"p":10,"q":9.88},{"v":2,"p":10,"q":9.88},{"v":3,"p":10,"q":9.88},{"v":4,"p":10,"q":9.88},{"v":5,"p":10,"q":9.88},{"v":6,"p":10,"q":9.88},{"v":7,"p":10,"q":9.88},{"v":8,"p":10,"q":9.88},{"v":9,"p":10,"q":9.88}]
},
"spacing":34.5,
"hconcat":[
{"vconcat":[
 {"width":340,"height":53,"resolve":{"axis":{"x":"independent","y":"independent"}},"layer":[
  {"data":{"name":"fine"},"mark":{"type":"line","color":"#000000","strokeWidth":1.5},
   "encoding":{"x":{"field":"t","type":"quantitative","scale":{"domain":[0,12],"nice":false},"axis":{"values":[0,2,4,6,8,10,12],"labels":false,"title":null}},
   "y":{"field":"a","type":"quantitative","scale":{"domain":[0,400],"nice":false},"axis":{"values":[0,200,400],"title":["Propofol","rate (mg/h)"],"titleX":-48,"titleY":26.5,"titleBaseline":"middle","titleLineHeight":14}}}},
  {"data":{"values":[{"px":12,"py":400,"s":"A"}]},"mark":{"type":"text","fontWeight":"bold","fontSize":12.5,"align":"right","baseline":"middle","dx":3,"dy":-4},
   "encoding":{"x":{"field":"px","type":"quantitative","axis":null},"y":{"field":"py","type":"quantitative","axis":null},"text":{"field":"s"}}}
 ]},
 {"width":340,"height":53,"resolve":{"axis":{"x":"independent","y":"independent"}},"layer":[
  {"data":{"name":"coarse"},"mark":{"type":"line","color":"#d12c66","strokeWidth":2},
   "encoding":{"x":{"field":"t","type":"quantitative","scale":{"domain":[0,12],"nice":false},"axis":{"values":[0,2,4,6,8,10,12],"labels":false,"title":null}},
   "y":{"field":"br","type":"quantitative","scale":{"domain":[0,10],"nice":false},"axis":{"values":[0,5,10],"title":["Conc.","(ug/ml)"],"titleX":-48,"titleY":26.5,"titleBaseline":"middle","titleLineHeight":14}}}},
  {"data":{"name":"coarse"},"mark":{"type":"line","color":"#4a84d4","strokeWidth":1.4,"interpolate":"monotone"},
   "encoding":{"x":{"field":"t","type":"quantitative","axis":null},"y":{"field":"bb","type":"quantitative","axis":null}}},
  {"data":{"name":"coarse"},"mark":{"type":"line","color":"#3db843","strokeWidth":1.4,"interpolate":"monotone"},
   "encoding":{"x":{"field":"t","type":"quantitative","axis":null},"y":{"field":"bg","type":"quantitative","axis":null}}},
  {"data":{"values":[{"px":12,"py":10,"s":"B"}]},"mark":{"type":"text","fontWeight":"bold","fontSize":12.5,"align":"right","baseline":"middle","dx":3,"dy":-4},
   "encoding":{"x":{"field":"px","type":"quantitative","axis":null},"y":{"field":"py","type":"quantitative","axis":null},"text":{"field":"s"}}}
 ]},
 {"width":340,"height":53,"resolve":{"axis":{"x":"independent","y":"independent"}},"layer":[
  {"data":{"name":"fine"},"mark":{"type":"line","color":"#000000","strokeWidth":1.4},
   "encoding":{"x":{"field":"t","type":"quantitative","scale":{"domain":[0,12],"nice":false},"axis":{"values":[0,2,4,6,8,10,12],"labels":false,"title":null}},
   "y":{"field":"c","type":"quantitative","scale":{"domain":[0,1],"nice":false},"axis":{"values":[0,0.5,1],"format":"~g","title":"BSP","titleX":-49,"titleY":26.5,"titleBaseline":"middle"}}}},
  {"data":{"values":[{"px":12,"py":1,"s":"C"}]},"mark":{"type":"text","fontWeight":"bold","fontSize":12.5,"align":"right","baseline":"middle","dx":3,"dy":-4},
   "encoding":{"x":{"field":"px","type":"quantitative","axis":null},"y":{"field":"py","type":"quantitative","axis":null},"text":{"field":"s"}}}
 ]},
 {"width":340,"height":53,"resolve":{"axis":{"x":"independent","y":"independent"}},"layer":[
  {"data":{"name":"fine"},"mark":{"type":"rule","strokeWidth":1.6},
   "encoding":{"x":{"field":"t","type":"quantitative","scale":{"domain":[0,12],"nice":false},"axis":null},
   "color":{"field":"g","type":"quantitative","scale":{"domain":[0,1],"range":["#ffffff","#000000"]},"legend":null}}},
  {"data":{"values":[{"px":12,"py":1,"s":"D"}]},"mark":{"type":"text","fontWeight":"bold","fontSize":12.5,"align":"right","baseline":"middle","dx":3,"dy":-6},
   "encoding":{"x":{"field":"px","type":"quantitative","axis":null},"y":{"field":"py","type":"quantitative","scale":{"domain":[0,1]},"axis":null},"text":{"field":"s"}}}
 ]},
 {"width":340,"height":53,"resolve":{"axis":{"x":"independent","y":"independent"}},"layer":[
  {"data":{"name":"coarse"},"mark":{"type":"line","color":"#d12c66","strokeWidth":2},
   "encoding":{"x":{"field":"t","type":"quantitative","scale":{"domain":[0,12],"nice":false},"axis":{"values":[0,2,4,6,8,10,12],"labels":false,"title":null}},
   "y":{"field":"er","type":"quantitative","scale":{"domain":[0,10],"nice":false},"axis":{"values":[0,5,10],"title":["Est. Conc.","(ug/ml)"],"titleX":-48,"titleY":26.5,"titleBaseline":"middle","titleLineHeight":14}}}},
  {"data":{"name":"coarse"},"mark":{"type":"line","color":"#4a84d4","strokeWidth":1.4,"interpolate":"monotone"},
   "encoding":{"x":{"field":"t","type":"quantitative","axis":null},"y":{"field":"eb","type":"quantitative","axis":null}}},
  {"data":{"name":"coarse"},"mark":{"type":"line","color":"#3db843","strokeWidth":1.4,"interpolate":"monotone"},
   "encoding":{"x":{"field":"t","type":"quantitative","axis":null},"y":{"field":"eg","type":"quantitative","axis":null}}},
  {"data":{"values":[{"px":12,"py":10,"s":"E"}]},"mark":{"type":"text","fontWeight":"bold","fontSize":12.5,"align":"right","baseline":"middle","dx":3,"dy":0},
   "encoding":{"x":{"field":"px","type":"quantitative","axis":null},"y":{"field":"py","type":"quantitative","axis":null},"text":{"field":"s"}}}
 ]},
 {"width":340,"height":53,"resolve":{"axis":{"x":"independent","y":"independent"}},"layer":[
  {"data":{"name":"fine"},"mark":{"type":"line","color":"#000000","strokeWidth":1.4},
   "encoding":{"x":{"field":"t","type":"quantitative","scale":{"domain":[0,12],"nice":false},"axis":{"values":[0,2,4,6,8,10,12],"labels":false,"title":null}},
   "y":{"field":"f","type":"quantitative","scale":{"domain":[0,1],"nice":false},"axis":{"values":[0,0.5,1],"format":"~g","title":"Est. BSP","titleX":-49,"titleY":26.5,"titleBaseline":"middle"}}}},
  {"data":{"values":[{"px":12,"py":1,"s":"F"}]},"mark":{"type":"text","fontWeight":"bold","fontSize":12.5,"align":"right","baseline":"middle","dx":3,"dy":-1},
   "encoding":{"x":{"field":"px","type":"quantitative","axis":null},"y":{"field":"py","type":"quantitative","axis":null},"text":{"field":"s"}}}
 ]},
 {"width":340,"height":53,"resolve":{"axis":{"x":"independent","y":"independent"}},"layer":[
  {"data":{"name":"coarse"},"mark":{"type":"line","color":"#ff1f1f","strokeWidth":1.6,"interpolate":"monotone"},
   "encoding":{"x":{"field":"t","type":"quantitative","scale":{"domain":[0,12],"nice":false},"axis":{"values":[0,2,4,6,8,10,12],"title":"Time (hours)","titleFontSize":12,"titlePadding":4,"labelPadding":8}},
   "y":{"field":"e","type":"quantitative","scale":{"domain":[-5,5],"nice":false},"axis":{"values":[-5,0,5],"title":"Est. Error","titleX":-50,"titleY":26.5,"titleBaseline":"middle"}}}},
  {"data":{"values":[{"px":12,"py":5,"s":"G"}]},"mark":{"type":"text","fontWeight":"bold","fontSize":12.5,"align":"right","baseline":"middle","dx":3,"dy":1},
   "encoding":{"x":{"field":"px","type":"quantitative","axis":null},"y":{"field":"py","type":"quantitative","axis":null},"text":{"field":"s"}}}
 ]}
],"spacing":21.75,"bounds":"flush"},
{"vconcat":[
 {"width":242,"height":240.5,"view":{"stroke":"#8c8c8c","strokeWidth":1},"resolve":{"axis":{"x":"independent","y":"independent"}},"layer":[
  {"data":{"name":"scatter"},"mark":{"type":"circle","size":44,"opacity":0.55,"color":"#000000"},
   "encoding":{"x":{"field":"x","type":"quantitative","scale":{"domain":[0,10],"nice":false},"axis":{"values":[0,2,4,6,8,10],"title":"Effect site concentration","titleFontSize":13,"titlePadding":4,"labelPadding":7}},
   "y":{"field":"y","type":"quantitative","scale":{"domain":[0,10],"nice":false},"axis":{"values":[0,1,2,3,4,5,6,7,8,9,10],"title":"Estimated Effect Site Concentration","titlePadding":3,"labelPadding":6}}}},
  {"data":{"values":[{"x":0.25,"y":0.25},{"x":10,"y":10}]},"mark":{"type":"line","color":"#e8332c","strokeDash":[9,6],"strokeWidth":1.5},
   "encoding":{"x":{"field":"x","type":"quantitative","axis":null},"y":{"field":"y","type":"quantitative","axis":null}}},
  {"data":{"name":"hticks"},"mark":{"type":"rule","color":"#8c8c8c","strokeWidth":1},
   "encoding":{"x":{"field":"v","type":"quantitative","axis":null},"y":{"field":"p","type":"quantitative","axis":null},"y2":{"field":"q"}}},
  {"data":{"name":"vticks"},"mark":{"type":"rule","color":"#8c8c8c","strokeWidth":1},
   "encoding":{"y":{"field":"v","type":"quantitative","axis":null},"x":{"field":"p","type":"quantitative","axis":null},"x2":{"field":"q"}}},
  {"data":{"values":[{"px":-1.5,"py":10,"s":"H"}]},"mark":{"type":"text","fontWeight":"bold","fontSize":12.5,"align":"center","baseline":"middle","dy":2},
   "encoding":{"x":{"field":"px","type":"quantitative","axis":null},"y":{"field":"py","type":"quantitative","axis":null},"text":{"field":"s"}}}
 ]},
 {"width":232,"height":196,"resolve":{"axis":{"x":"independent","y":"independent"}},"layer":[
  {"data":{"values":[{"a":0,"b":12,"z":0}]},"mark":{"type":"rule","color":"#000000","strokeWidth":1.5},
   "encoding":{"x":{"field":"a","type":"quantitative","scale":{"domain":[-1.3846,12],"nice":false,"zero":false},"axis":{"values":[0,2,4,6,8,10,12],"domain":false,"title":"Frequency [cycles/hour]","titleFontSize":12,"titlePadding":3,"tickColor":"#000000","tickSize":3,"labelPadding":5,"titleX":128}},"x2":{"field":"b"},"y":{"field":"z","type":"quantitative","scale":{"domain":[0,100],"nice":false},"axis":{"values":[0,20,40,60,80,100],"title":"Power (dB)","titleFontSize":12,"titlePadding":9,"domainColor":"#000000","tickColor":"#000000","tickSize":3,"labelPadding":4,"domainWidth":1.5,"offset":-24}}}},
  {"data":{"name":"psd"},"mark":{"type":"line","color":"#000000","strokeWidth":1.5,"interpolate":"monotone"},
   "encoding":{"x":{"field":"f","type":"quantitative","axis":null},"y":{"field":"k","type":"quantitative","axis":null}}},
  {"data":{"name":"psd"},"mark":{"type":"line","color":"#ff9a9a","strokeWidth":5,"opacity":0.7,"interpolate":"monotone"},
   "encoding":{"x":{"field":"f","type":"quantitative","axis":null},"y":{"field":"r","type":"quantitative","axis":null}}},
  {"data":{"name":"psd"},"mark":{"type":"line","color":"#ff0000","strokeWidth":3,"interpolate":"monotone"},
   "encoding":{"x":{"field":"f","type":"quantitative","axis":null},"y":{"field":"r","type":"quantitative","axis":null}}},
  {"data":{"values":[{"px":-3.4,"py":100,"s":"I"}]},"mark":{"type":"text","fontWeight":"bold","fontSize":12.5,"align":"center","baseline":"middle","dy":-2},
   "encoding":{"x":{"field":"px","type":"quantitative","axis":null},"y":{"field":"py","type":"quantitative","axis":null},"text":{"field":"s"}}}
 ]}
],"spacing":60,"bounds":"flush"}
],
"config":{
 "view":{"stroke":null},
 "font":"Liberation Sans",
 "axis":{"grid":false,"labelFont":"Liberation Sans","titleFont":"Liberation Sans","labelFontSize":12,"titleFontSize":12.5,"titleFontWeight":"normal","labelColor":"#1e1e1e","titleColor":"#1e1e1e","domainColor":"#8c8c8c","tickColor":"#8c8c8c","tickSize":-3,"labelPadding":7,"labelFlush":false,"labelOverlap":false}
}
}
